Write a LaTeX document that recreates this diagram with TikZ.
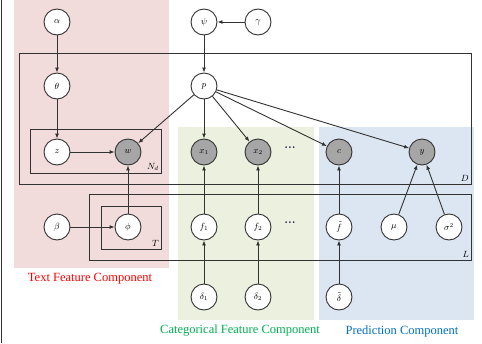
\documentclass[tikz,border=0pt]{standalone}
\usepackage{fontspec}
\newfontfamily\labelfont{Liberation Serif}
\usetikzlibrary{arrows.meta}
\definecolor{pinkbg}{RGB}{242,220,219}
\definecolor{greenbg}{RGB}{235,241,222}
\definecolor{bluebg}{RGB}{220,230,242}
\definecolor{obsfill}{RGB}{166,166,166}
\definecolor{linec}{RGB}{50,50,50}
\definecolor{lblred}{RGB}{255,0,0}
\definecolor{lblgreen}{RGB}{0,176,80}
\definecolor{lblblue}{RGB}{0,112,192}
\definecolor{dotc}{RGB}{20,30,70}
\begin{document}
\begin{tikzpicture}[x=1pt,y=-1pt,
  latent/.style={circle,draw=linec,line width=0.9pt,fill=white,minimum size=26pt,inner sep=0pt,font=\small},
  obs/.style={latent,fill=obsfill},
  edge/.style={draw=linec,line width=0.9pt,-{Latex[length=5pt,width=4pt]}},
  plate/.style={draw=linec,line width=0.9pt},
  platelbl/.style={anchor=south east,inner sep=2pt,font=\small},
  dotsn/.style={font=\large\bfseries,text=dotc,inner sep=0pt},
  comp/.style={font=\labelfont\fontsize{12.5}{14}\selectfont}]
\useasboundingbox (0,0) rectangle (482,343);
% backgrounds
\fill[pinkbg] (14,0) rectangle (169,268);
\fill[greenbg] (178,127) rectangle (314,320);
\fill[bluebg] (319,127) rectangle (474,320);
\draw[linec,line width=1.5pt] (1.5,0) -- (1.5,343);
% plates
\draw[plate] (19,53) rectangle (471,184);
\node[platelbl] at (471,184) {$D$};
\draw[plate] (30,129) rectangle (161,173);
\node[platelbl] at (161,173) {$N_d$};
\draw[plate] (89,194) rectangle (471,260);
\node[platelbl] at (471,260) {$L$};
\draw[plate] (101,206) rectangle (161,249);
\node[platelbl] at (161,249) {$T$};
% nodes
\node[latent] (alpha) at (57,22) {$\alpha$};
\node[latent] (theta) at (57,86) {$\theta$};
\node[latent] (z) at (57,152) {$z$};
\node[obs] (w) at (128,152) {$w$};
\node[latent] (psi) at (204,22) {$\psi$};
\node[latent] (gamma) at (258,22) {$\gamma$};
\node[latent] (p) at (204,86) {$p$};
\node[obs] (x1) at (204,152) {$x_1$};
\node[obs] (x2) at (258,152) {$x_2$};
\node[dotsn] (dots1) at (290,148) {...};
\node[obs] (c) at (339,152) {$c$};
\node[obs] (y) at (422,152) {$y$};
\node[latent] (beta) at (57,227) {$\beta$};
\node[latent] (phi) at (128,227) {$\phi$};
\node[latent] (f1) at (204,227) {$f_1$};
\node[latent] (f2) at (258,227) {$f_2$};
\node[dotsn] (dots2) at (290,223) {...};
\node[latent] (ft) at (339,227) {$\tilde f$};
\node[latent] (mu) at (394,227) {$\mu$};
\node[latent] (sigma) at (449,227) {$\sigma^2$};
\node[latent] (d1) at (204,297) {$\delta_1$};
\node[latent] (d2) at (258,297) {$\delta_2$};
\node[latent] (dt) at (339,297) {$\tilde\delta$};
% edges
\draw[edge] (alpha) -- (theta);
\draw[edge] (theta) -- (z);
\draw[edge] (z) -- (w);
\draw[edge] (gamma) -- (psi);
\draw[edge] (psi) -- (p);
\draw[edge] (p) -- (w);
\draw[edge] (p) -- (x1);
\draw[edge] (p) -- (x2);
\draw[edge] (p) -- (c);
\draw[edge] (p) -- (y);
\draw[edge] (phi) -- (w);
\draw[edge] (beta) -- (phi);
\draw[edge] (f1) -- (x1);
\draw[edge] (f2) -- (x2);
\draw[edge] (ft) -- (c);
\draw[edge] (mu) -- (y);
\draw[edge] (sigma) -- (y);
\draw[edge] (d1) -- (f1);
\draw[edge] (d2) -- (f2);
\draw[edge] (dt) -- (ft);
% component labels
\node[comp,text=lblred] (lt) at (90,279) {Text Feature Component};
\node[comp,text=lblgreen] (lc) at (240,331) {Categorical Feature Component};
\node[comp,text=lblblue] (lp) at (402,331) {Prediction Component};
\end{tikzpicture}
\end{document}
